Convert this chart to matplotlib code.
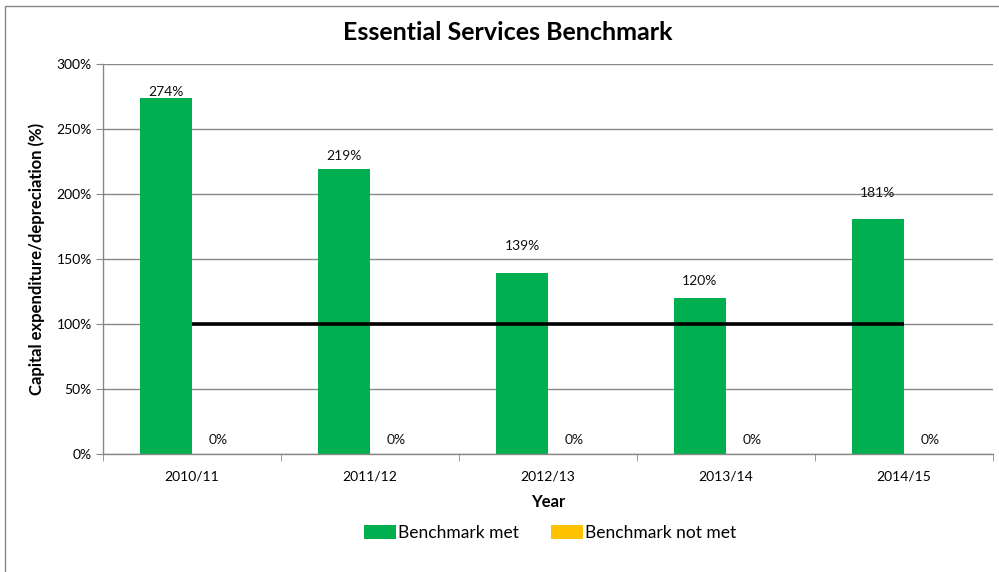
import matplotlib.pyplot as plt
import numpy as np
from matplotlib.patches import Rectangle
from matplotlib.ticker import FuncFormatter

plt.rcParams['font.family'] = ['Lato', 'DejaVu Sans']

years = ['2010/11', '2011/12', '2012/13', '2013/14', '2014/15']
met = [274, 219, 139, 120, 181]
not_met = [0, 0, 0, 0, 0]
benchmark = 100

# label lift above each green bar, in points
met_label_lift = [0, 5, 15, 8, 14]

fig = plt.figure(figsize=(9.99, 5.72), dpi=100)
ax = fig.add_axes([103/999, 1-454/572, 890/999, 390/572])

x = np.arange(len(years))
w = 0.292
green = '#00B050'
orange = '#FFC000'
grid = '#888888'

ax.bar(x - w/2, met, w, color=green, label='Benchmark met', zorder=2)
ax.bar(x + w/2, not_met, w, color=orange, label='Benchmark not met', zorder=2)
ax.plot([x[0], x[-1]], [benchmark, benchmark], color='black', lw=2.6,
        solid_capstyle='butt', zorder=3)

for i, v in enumerate(met):
    ax.annotate(f'{v}%', (x[i] - w/2, v), xytext=(0, met_label_lift[i]),
                textcoords='offset points', ha='center', va='bottom',
                fontsize=10, color='#111111', zorder=4)
for i, v in enumerate(not_met):
    ax.annotate(f'{v}%', (x[i] + w/2, v), xytext=(0, 6),
                textcoords='offset points', ha='center', va='bottom',
                fontsize=10, color='#111111', zorder=4)

ax.set_ylim(0, 300)
ax.set_xlim(-0.5, len(years) - 0.5)
ax.set_yticks(np.arange(0, 301, 50))
ax.yaxis.set_major_formatter(FuncFormatter(lambda v, p: f'{v:.0f}%'))
ax.yaxis.grid(True, color=grid, lw=1)
ax.set_axisbelow(True)

ax.set_xticks(x)
ax.set_xticklabels(years)
ax.set_xticks(np.arange(-0.5, len(years)), minor=True)
ax.tick_params(axis='x', which='major', length=0, pad=12, labelsize=10)
ax.tick_params(axis='x', which='minor', length=5, color=grid, direction='out')
ax.tick_params(axis='y', length=5, color=grid, labelsize=10, pad=3)

for s in ['top', 'right']:
    ax.spines[s].set_visible(False)
for s in ['left', 'bottom']:
    ax.spines[s].set_color(grid)
    ax.spines[s].set_linewidth(1)

ax.set_xlabel('Year', fontsize=12, fontweight='bold', labelpad=8)
ax.set_ylabel('Capital expenditure/depreciation (%)', fontsize=12,
              fontweight='bold', labelpad=8)
fig.text(508/999, 1-32/572, 'Essential Services Benchmark', ha='center',
         va='center', fontsize=18, fontweight='bold')

ax.legend(loc='center', bbox_to_anchor=(550/999, 1-533/572),
          bbox_transform=fig.transFigure, ncol=2, frameon=False,
          fontsize=12.5, handlelength=1.85, handleheight=0.8,
          columnspacing=1.8, handletextpad=0.15)

# chart-area border
fig.patches.append(Rectangle((5/999, -0.1), 1.2, 1 - 6/572 + 0.1,
                             transform=fig.transFigure, fill=False,
                             edgecolor='#888888', lw=1))

fig.savefig('out.png', dpi=100)
